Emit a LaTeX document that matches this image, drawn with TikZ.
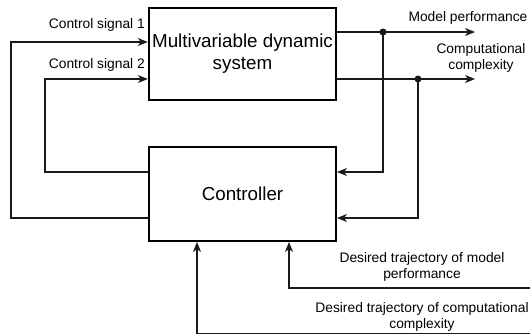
\documentclass[tikz,border=0pt]{standalone}
\usepackage{fontspec}
\setmainfont{Liberation Sans}
\usetikzlibrary{arrows.meta,positioning}
\definecolor{loopInk}{HTML}{000000}
\definecolor{loopWire}{HTML}{1A1A1A}
\tikzset{
  every picture/.style={text=loopInk},
  loop box/.style={draw=loopInk, line width=2pt, fill=white, align=center,
    minimum width=187pt, font=\fontsize{18.8}{22}\selectfont},
  loop label/.style={align=center, inner sep=0pt, font=\fontsize{13.8}{16}\selectfont},
  loop arrow/.style={-{Stealth[length=10pt,width=8pt,inset=3pt]},
    draw=loopWire, line width=1.1pt},
  loop dot/.style={fill=loopWire}
}
\begin{document}
\begin{tikzpicture}[x=1pt,y=-1pt]
  \fill[white] (0,0) rectangle (530,335);
  \useasboundingbox (0,0) rectangle (530,335);
  % blocks
  \node[loop box, minimum height=92pt] (sys) at (242.5,54) {Multivariable dynamic\\system};
  \node[loop box, minimum height=94pt] (ctrl) at (242.5,194) {Controller};
  % free ends and branch points
  \coordinate (perf) at (475,32);
  \coordinate (cplx) at (475,79);
  \coordinate (tap1) at (383,32);
  \coordinate (tap2) at (418,79);
  \coordinate (ret1) at (11,218);
  \coordinate (ret2) at (45,172);
  \coordinate (ref1) at (531,288);
  \coordinate (ref2) at (531,333.5);
  % control signals
  \draw[loop arrow] (ctrl.west |- ret1) -- (ret1) |- ([yshift=12pt]sys.west);
  \draw[loop arrow] (ctrl.west |- ret2) -- (ret2) |- ([yshift=-25pt]sys.west);
  % outputs
  \draw[loop arrow] (sys.east |- perf) -- (perf);
  \draw[loop arrow] (sys.east |- cplx) -- (cplx);
  \fill[loop dot] (tap1) circle (3.5pt);
  \fill[loop dot] (tap2) circle (3.5pt);
  % feedback
  \draw[loop arrow] (tap1) |- (ctrl.east |- ret2);
  \draw[loop arrow] (tap2) |- (ctrl.east |- ret1);
  % desired trajectories
  \draw[loop arrow] (ref1) -| ([xshift=46.5pt]ctrl.south);
  \draw[loop arrow] (ref2) -| ([xshift=-45.5pt]ctrl.south);
  % labels
  \node[loop label, anchor=east] (lsig1) at (145,25) {Control signal 1};
  \node[loop label, anchor=east] (lsig2) at (145,65) {Control signal 2};
  \node[loop label] (lperf) at (468,18) {Model performance};
  \node[loop label] (lcplx) at (481,58) {Computational\\complexity};
  \node[loop label] (ldes1) at (422,266.5) {Desired trajectory of model\\performance};
  \node[loop label] (ldes2) at (422,317) {Desired trajectory of computational\\complexity};
\end{tikzpicture}
\end{document}
